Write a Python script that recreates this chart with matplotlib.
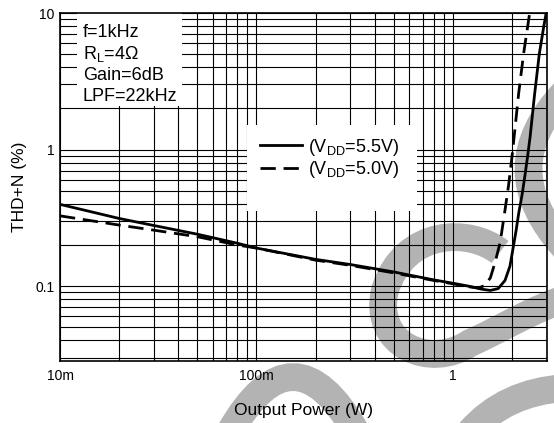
import numpy as np
import matplotlib
matplotlib.use('Agg')
import matplotlib.pyplot as plt
import matplotlib as mpl
from matplotlib.path import Path
from matplotlib.patches import PathPatch, Rectangle
from matplotlib.transforms import Affine2D
from matplotlib.ticker import LogLocator, NullFormatter

mpl.rcParams['font.family'] = 'Liberation Sans'
mpl.rcParams['mathtext.fontset'] = 'custom'
mpl.rcParams['mathtext.rm'] = 'Liberation Sans'
mpl.rcParams['mathtext.it'] = 'Liberation Sans'

# THD+N vs output power, f=1kHz, RL=4 ohm
p_55 = [0.01, 0.02, 0.03, 0.05, 0.08, 0.1, 0.2, 0.3, 0.5, 0.8, 1.0, 1.2, 1.4,
        1.55, 1.7, 1.84, 1.95, 2.03, 2.1, 2.16, 2.25, 2.33, 2.4, 2.47, 2.6,
        2.75, 2.9, 3.0]
thd_55 = [0.397, 0.313, 0.278, 0.24, 0.206, 0.19, 0.157, 0.144, 0.127, 0.111,
          0.105, 0.1, 0.095, 0.093, 0.096, 0.11, 0.14, 0.195, 0.26, 0.34, 0.47,
          0.66, 0.9, 1.24, 2.5, 5.0, 8.0, 10.5]

p_50 = [0.01, 0.02, 0.03, 0.05, 0.08, 0.1, 0.2, 0.3, 0.5, 0.8, 1.0, 1.2, 1.35,
        1.45, 1.55, 1.64, 1.74, 1.84, 1.92, 2.0, 2.03, 2.16, 2.29, 2.47]
thd_50 = [0.327, 0.28, 0.257, 0.23, 0.2, 0.19, 0.155, 0.142, 0.125, 0.11,
          0.104, 0.099, 0.097, 0.101, 0.115, 0.15, 0.21, 0.36, 0.55, 0.9,
          1.1, 2.58, 5.07, 10.5]

labels = [r'(V$_\mathregular{DD}$=5.5V)', r'(V$_\mathregular{DD}$=5.0V)']
notes = ['f=1kHz', r'R$_\mathregular{L}$=4Ω', 'Gain=6dB', 'LPF=22kHz']
xticks = [0.01, 0.1, 1]
xticklabels = ['10m', '100m', '1']
yticks = [0.1, 1, 10]
yticklabels = ['0.1', '1', '10']

W, H = 554, 423
fig = plt.figure(figsize=(W / 100, H / 100), dpi=100)
ax = fig.add_axes([60 / W, 1 - 361 / H, 486.7 / W, 348 / H])
ax.set_facecolor('none')

# background logo strokes, in pixel coords (y down)
pix = Affine2D().scale(1 / W, -1 / H).translate(0, 1) + fig.transFigure
M, C3, C4 = Path.MOVETO, Path.CURVE3, Path.CURVE4
strokes = [
    Path([(565, 92), (492, 168), (565, 248)], [M, C3, C3]),
    Path([(500, 252), (470, 228), (405, 228), (385, 290),
          (372, 345), (430, 370), (470, 343),
          (500, 330), (530, 310), (570, 297)],
         [M, C4, C4, C4, C4, C4, C4, C4, C4, C4]),
    Path([(230, 432), (293, 322), (356, 432)], [M, C3, C3]),
    Path([(470, 432), (505, 392), (565, 388)], [M, C3, C3]),
]
for s in strokes:
    fig.add_artist(PathPatch(s, transform=pix, facecolor='none',
                             edgecolor='#b3b3b3', lw=20, capstyle='butt',
                             zorder=-1))

ax.plot(p_55, thd_55, color='black', lw=2, label=labels[0])
ax.plot(p_50, thd_50, color='black', lw=2, dashes=(5.5, 2.8), label=labels[1])

ax.set_xscale('log')
ax.set_yscale('log')
ax.set_xlim(0.01, 3)
ax.set_ylim(0.0283, 10)
ax.set_xticks(xticks)
ax.set_xticklabels(xticklabels)
ax.set_yticks(yticks)
ax.set_yticklabels(yticklabels)
ax.xaxis.set_minor_locator(LogLocator(base=10, subs=np.arange(2, 10)))
ax.yaxis.set_minor_locator(LogLocator(base=10, subs=np.arange(2, 10)))
ax.xaxis.set_minor_formatter(NullFormatter())
ax.yaxis.set_minor_formatter(NullFormatter())
ax.tick_params(which='both', length=0, labelsize=10)
ax.tick_params(axis='x', pad=6)
ax.tick_params(axis='y', pad=4)
ax.grid(which='both', color='black', lw=0.8)
for sp in ax.spines.values():
    sp.set_linewidth(1.2)

ax.set_xlabel('Output Power (W)', fontsize=12.5, labelpad=14)
ax.set_ylabel('THD+N (%)', fontsize=12.5, labelpad=6)

# white boxes behind the conditions text and the legend
ax.add_patch(Rectangle((0.035, 0.733), 0.216, 0.267, transform=ax.transAxes,
                       facecolor='white', edgecolor='none', zorder=2.2))
ax.add_patch(Rectangle((0.384, 0.431), 0.35, 0.247, transform=ax.transAxes,
                       facecolor='white', edgecolor='none', zorder=2.2))

for i, t in enumerate(notes):
    ax.text(0.047, 0.9454 - i * 0.0622, t, transform=ax.transAxes,
            fontsize=13, va='center', ha='left', zorder=3)

ax.legend(loc='upper left', bbox_to_anchor=(0.411, 0.645), frameon=False,
          fontsize=13, handlelength=2.33, handletextpad=0.3, labelspacing=0.1,
          borderpad=0, borderaxespad=0)

plt.savefig('out.png', dpi=100)
